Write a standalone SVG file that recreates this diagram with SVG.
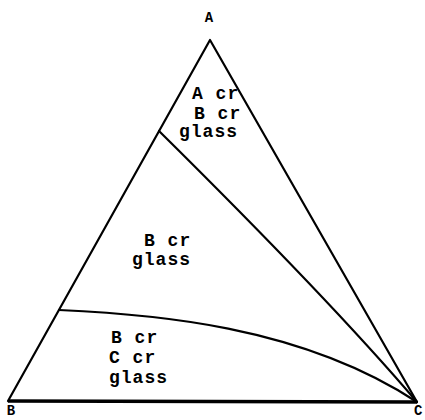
<svg xmlns="http://www.w3.org/2000/svg" width="425" height="420" viewBox="0 0 425 420">
<style>
.ln{fill:none;stroke:#000;stroke-width:2.2;stroke-linejoin:round;stroke-linecap:round}
.base{fill:none;stroke:#000;stroke-width:3.6}
.t{font-family:"Liberation Mono","Courier New",monospace;font-weight:bold;font-size:18px;letter-spacing:1px;fill:#000}
.v{font-family:"Liberation Mono","Courier New",monospace;font-weight:bold;font-size:14px;fill:#000}
</style>
<rect width="425" height="420" fill="#fff"/>
<g id="connectors">
<path class="ln" d="M8,401 L210,40 L417,402"/>
<path class="base" d="M8,401 L417,402"/>
<path class="ln" d="M159,131 Q330,300 417,402"/>
<path class="ln" d="M59,310 C150,314 300,325 417,402"/>
</g>
<g id="vertex-A"><text class="v" x="209" y="22" text-anchor="middle">A</text></g>
<g id="vertex-B"><text class="v" x="11" y="415" text-anchor="middle">B</text></g>
<g id="vertex-C"><text class="v" x="414" y="415">C</text></g>
<g id="region-1">
<text class="t" x="192" y="99">A cr</text>
<text class="t" x="194" y="119">B cr</text>
<text class="t" x="179" y="137">glass</text>
</g>
<g id="region-2">
<text class="t" x="144" y="246">B cr</text>
<text class="t" x="132" y="265">glass</text>
</g>
<g id="region-3">
<text class="t" x="111" y="343">B cr</text>
<text class="t" x="109" y="363">C cr</text>
<text class="t" x="109" y="383">glass</text>
</g>
</svg>
